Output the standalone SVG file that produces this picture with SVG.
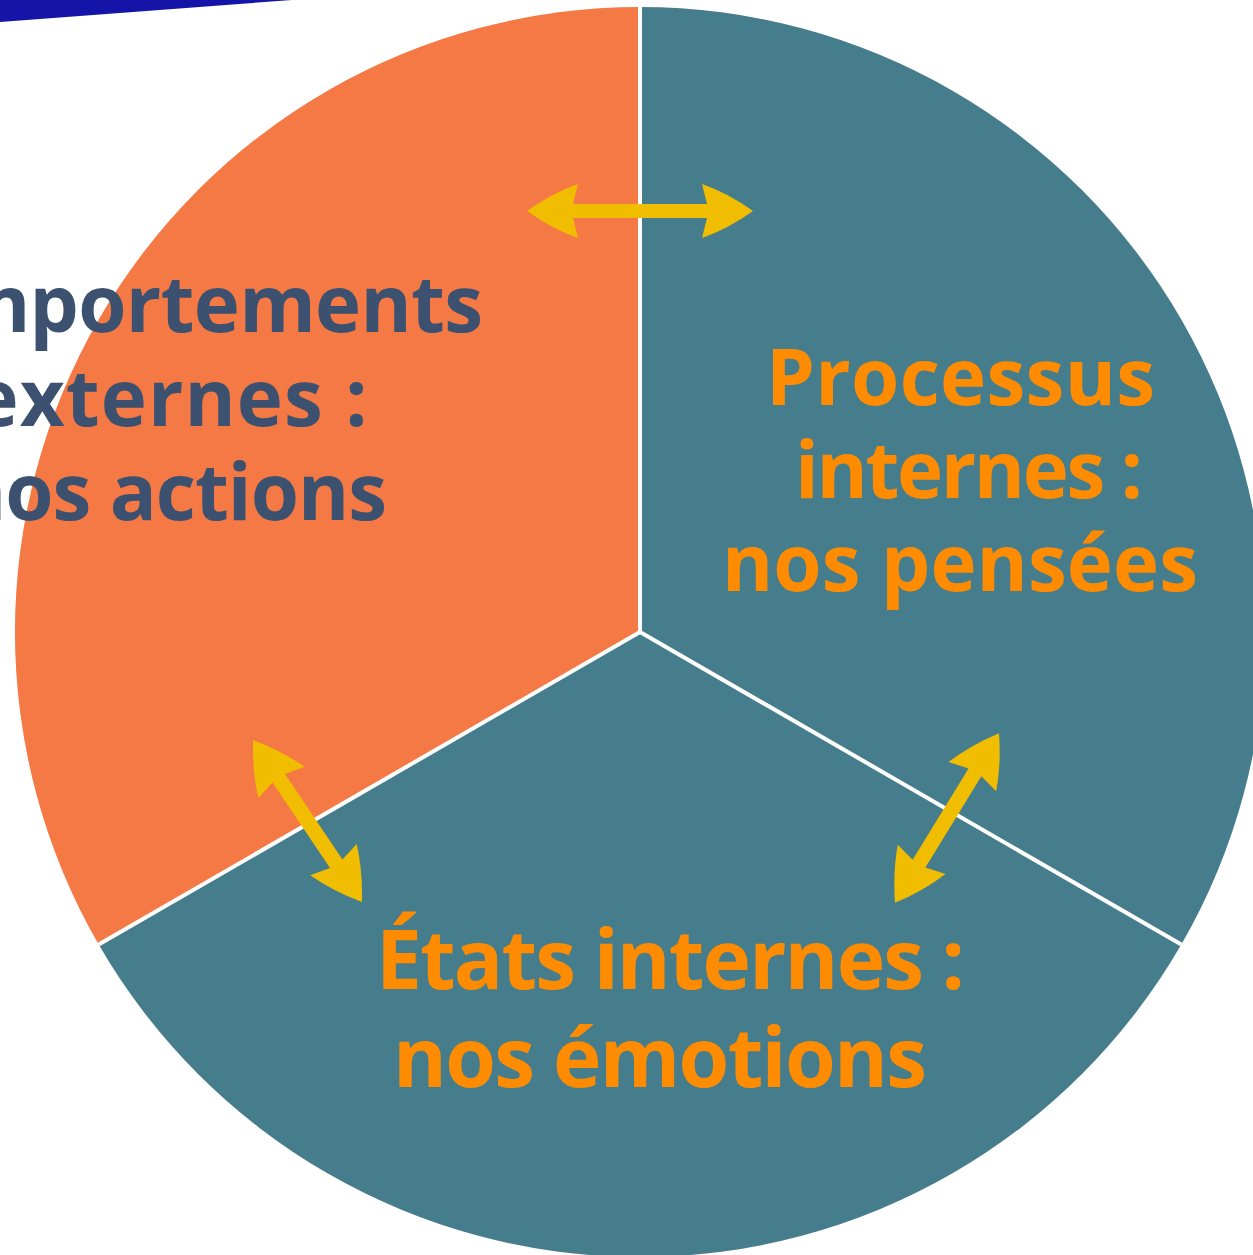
<svg xmlns="http://www.w3.org/2000/svg" width="1253" height="1255" viewBox="0 0 1253 1255">
<style>
.lbl{font-family:"Open Sans","Liberation Sans",sans-serif;font-weight:700;text-anchor:middle}
.or{fill:#ff8c00}
.dk{fill:#3b516f}
.arrow{fill:#f0bd00}
.div{stroke:#ffffff;stroke-width:4;fill:none}
</style>
<rect width="1253" height="1255" fill="#ffffff"/>
<polygon points="0,0 292,0 0,22" fill="#1414a8"/>
<g id="slice-comportements">
<path d="M640 632 L640 7 A625 625 0 0 0 98.7 944.5 Z" fill="#f47945"/>
<text class="lbl dk" x="170" y="332" font-size="78" textLength="626">Comportements</text>
<text class="lbl dk" x="170" y="426" font-size="78" textLength="395">externes :</text>
<text class="lbl dk" x="171" y="520" font-size="78" textLength="432">nos actions</text>
</g>
<g id="slice-processus">
<path d="M640 632 L640 7 A625 625 0 0 1 1181.3 944.5 Z" fill="#467d8c"/>
<text class="lbl or" x="960.5" y="405" font-size="78" textLength="389">Processus</text>
<text class="lbl or" x="969" y="498" font-size="78" textLength="348">internes :</text>
<text class="lbl or" x="960" y="591" font-size="78" textLength="476">nos pensées</text>
</g>
<g id="slice-etats">
<path d="M640 632 L1181.3 944.5 A625 625 0 0 1 98.7 944.5 Z" fill="#467d8c"/>
<text class="lbl or" x="670.5" y="989" font-size="82" textLength="589">États internes :</text>
<text class="lbl or" x="660" y="1087" font-size="82" textLength="534">nos émotions</text>
</g>
<g id="dividers">
<path class="div" d="M640 632 L640 7 M640 632 L98.7 944.5 M640 632 L1181.3 944.5"/>
</g>
<g id="connectors">
<g transform="translate(640 211)">
<path class="arrow" d="M-113 0 Q-88 -18 -62 -27 L-67 -7 L67 -7 L62 -27 Q88 -18 113 0 Q88 18 62 27 L67 7 L-67 7 L-62 27 Q-88 18 -113 0 Z"/>
</g>
<g transform="translate(307.5 821) rotate(56.1)">
<path class="arrow" d="M-97.5 0 Q-72.5 -18 -46.5 -28 L-51.5 -7.5 L51.5 -7.5 L46.5 -28 Q72.5 -18 97.5 0 Q72.5 18 46.5 28 L51.5 7.5 L-51.5 7.5 L-46.5 28 Q-72.5 18 -97.5 0 Z"/>
</g>
<g transform="translate(947 818) rotate(-58.5)">
<path class="arrow" d="M-99.5 0 Q-74.5 -18 -48.5 -28 L-53.5 -7.5 L53.5 -7.5 L48.5 -28 Q74.5 -18 99.5 0 Q74.5 18 48.5 28 L53.5 7.5 L-53.5 7.5 L-48.5 28 Q-74.5 18 -99.5 0 Z"/>
</g>
</g>
</svg>
